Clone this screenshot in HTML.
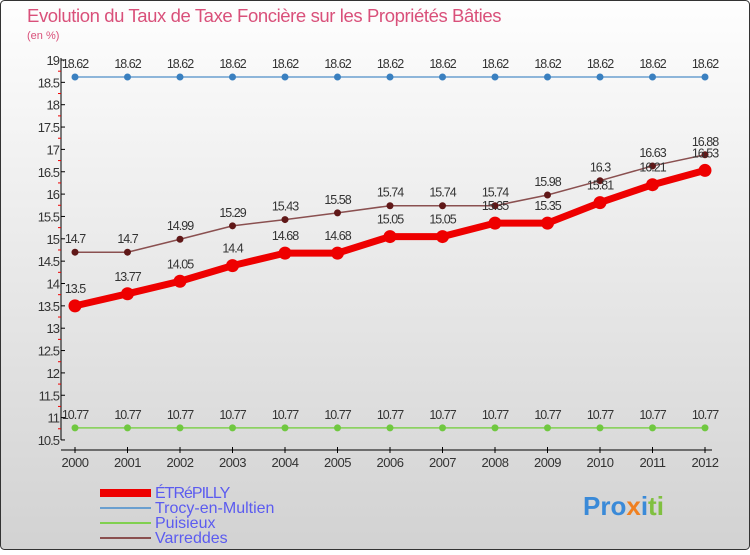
<!DOCTYPE html>
<html><head><meta charset="utf-8"><style>
body{margin:0}
svg text{font-family:"Liberation Sans",sans-serif}
</style></head><body>
<svg width="750" height="550" viewBox="0 0 750 550" xmlns="http://www.w3.org/2000/svg">
<defs><linearGradient id="bg" x1="0" y1="0" x2="0" y2="1"><stop offset="0" stop-color="#fefefe"/><stop offset="1" stop-color="#d2d2d2"/></linearGradient></defs>
<rect x="0.5" y="0.5" width="749" height="549" rx="4" fill="url(#bg)" stroke="#333"/>
<text x="27" y="22" font-size="18.5" fill="#d9507a" letter-spacing="-0.4">Evolution du Taux de Taxe Foncière sur les Propriétés Bâties</text>
<text x="27" y="39" font-size="11" fill="#d9507a">(en %)</text>
<g id="axes"></g><g id="series"></g>
<g font-size="16" fill="#5b5bf0">
<rect x="100" y="489" width="51" height="8" fill="#e00"/>
<text x="155" y="498" letter-spacing="-1">ÉTRéPILLY</text>
<line x1="100" y1="508" x2="151" y2="508" stroke="#6a9fcf" stroke-width="2"/>
<text x="155" y="513">Trocy-en-Multien</text>
<line x1="100" y1="523" x2="151" y2="523" stroke="#80d050" stroke-width="2"/>
<text x="155" y="528">Puisieux</text>
<line x1="100" y1="538" x2="151" y2="538" stroke="#8a5050" stroke-width="2"/>
<text x="155" y="543">Varreddes</text>
</g>
<text x="583" y="515" font-size="26" font-weight="bold"><tspan fill="#3a8ad8">Pro</tspan><tspan fill="#f08020">x</tspan><tspan fill="#3a8ad8">i</tspan><tspan fill="#80c040">ti</tspan></text>
</svg>
<script>
const years=[2000,2001,2002,2003,2004,2005,2006,2007,2008,2009,2010,2011,2012];
const yTicks=[10.5,11,11.5,12,12.5,13,13.5,14,14.5,15,15.5,16,16.5,17,17.5,18,18.5,19];
const etrepilly=[13.5,13.77,14.05,14.4,14.68,14.68,15.05,15.05,15.35,15.35,15.81,16.21,16.53];
const trocy=[18.62,18.62,18.62,18.62,18.62,18.62,18.62,18.62,18.62,18.62,18.62,18.62,18.62];
const puisieux=[10.77,10.77,10.77,10.77,10.77,10.77,10.77,10.77,10.77,10.77,10.77,10.77,10.77];
const varreddes=[14.7,14.7,14.99,15.29,15.43,15.58,15.74,15.74,15.74,15.98,16.3,16.63,16.88];
const NS='http://www.w3.org/2000/svg';
const X=i=>75+i*52.5, Y=v=>60+(19-v)*44.7;
function mk(p,t,a){const e=document.createElementNS(NS,t);for(const k in a)e.setAttribute(k,a[k]);p.appendChild(e);return e;}
const ax=document.getElementById('axes'), se=document.getElementById('series');
let l=mk(ax,'line',{x1:61,y1:58,x2:61,y2:440,stroke:'#000'});


l=mk(ax,'line',{x1:61,y1:450,x2:712,y2:450,stroke:'#000'});


yTicks.forEach(v=>{
 const y=Y(v);
 mk(ax,'line',{x1:61,y1:y,x2:65,y2:y,stroke:'#000'});
 if(v<19)mk(ax,'line',{x1:58,y1:Y(v+0.25),x2:61,y2:Y(v+0.25),stroke:'#e00'});
 const t=mk(ax,'text',{x:59,y:y+5,'font-size':13,'text-anchor':'end',fill:'#333','letter-spacing':'-1'});
 t.textContent=String(v);
 
 
});
years.forEach((yr,i)=>{
 mk(ax,'line',{x1:X(i),y1:447,x2:X(i),y2:453,stroke:'#000'});
 const t=mk(ax,'text',{x:X(i),y:467,'font-size':13,'text-anchor':'middle',fill:'#333','letter-spacing':'-0.5'});
 t.textContent=yr;
 
 
});
function series(name,vals,color,w,r,dot){
 const g=mk(se,'g',{});
 
 
 mk(g,'polyline',{points:vals.map((v,i)=>X(i)+','+Y(v)).join(' '),fill:'none',stroke:color,'stroke-width':w,'stroke-linejoin':'round'});
 vals.forEach((v,i)=>{
  const c=mk(g,'circle',{cx:X(i),cy:Y(v),r:r,fill:dot});
  
  
  const t=mk(g,'text',{x:X(i),y:Y(v)-9-(r>4?4:0),'font-size':12.5,'text-anchor':'middle',fill:'#333','letter-spacing':'-1'});
  t.textContent=String(v);
  
  
 });
}
series('trocy',trocy,'#6a9fcf',1.5,3.5,'#3a80c0');
series('puisieux',puisieux,'#80d050',1.5,3.5,'#70c840');
series('varreddes',varreddes,'#8a5050',1.5,3.5,'#601818');
series('etrepilly',etrepilly,'#ee0000',7,6.5,'#ee0000');
</script>
</body></html>
